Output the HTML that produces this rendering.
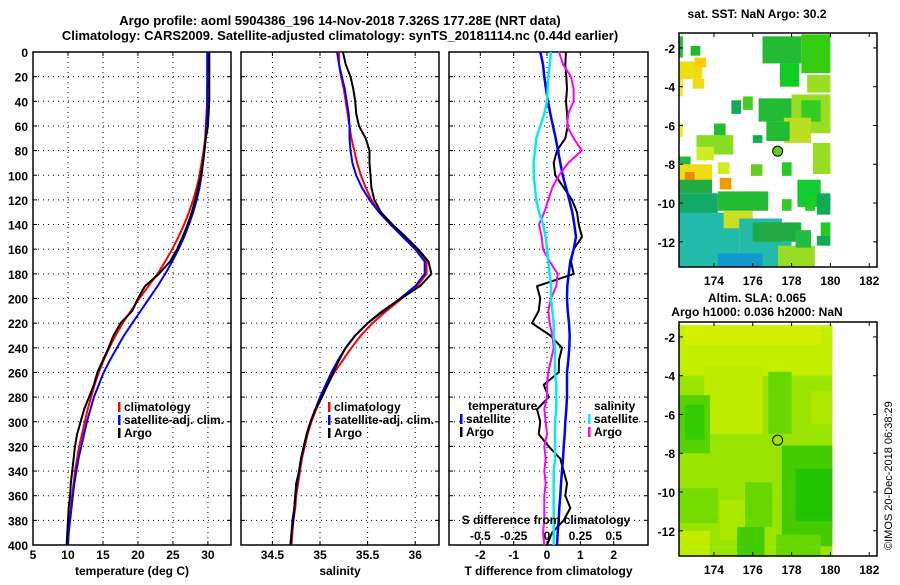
<!DOCTYPE html>
<html><head><meta charset="utf-8"><style>
body{margin:0;background:#fff;width:900px;height:580px;overflow:hidden}
svg{font-family:"Liberation Sans",sans-serif;font-weight:bold}
</style></head><body>
<svg id="c" width="900" height="580" xmlns="http://www.w3.org/2000/svg">
<text x="340" y="25" font-size="13" text-anchor="middle">Argo profile: aoml 5904386_196 14-Nov-2018 7.326S 177.28E (NRT data)</text>
<text x="340" y="40" font-size="13" text-anchor="middle">Climatology: CARS2009. Satellite-adjusted climatology: synTS_20181114.nc (0.44d earlier)</text>
<text x="757" y="18" font-size="12" text-anchor="middle">sat. SST: NaN Argo: 30.2</text>
<text x="757" y="302" font-size="12" text-anchor="middle">Altim. SLA: 0.065</text>
<text x="757" y="316" font-size="12" text-anchor="middle">Argo h1000: 0.036 h2000: NaN</text>
<text transform="translate(892,550) rotate(-90)" font-size="11" font-weight="normal">©IMOS 20-Dec-2018 06:38:29</text>
<g id="plots"></g>
</svg>
<script>
const depths=[0,10,20,30,40,50,60,70,80,90,100,110,120,130,140,150,160,170,180,190,200,210,220,230,240,250,260,270,280,290,300,310,320,330,340,350,360,370,380,390,400];
const tempClim=[30,30,30,29.9,29.9,29.8,29.7,29.6,29.4,29.1,28.8,28.4,27.9,27.3,26.6,25.8,24.9,23.9,22.8,21.5,20.2,19,17.8,16.8,15.9,15.1,14.4,13.8,13.3,12.8,12.4,12,11.6,11.3,11,10.8,10.6,10.4,10.2,10.1,9.9];
const tempSat=[29.9,29.9,29.9,29.9,29.9,29.9,29.8,29.7,29.5,29.3,29.1,28.8,28.4,27.9,27.3,26.6,25.8,24.9,23.9,22.8,21.6,20.4,19.2,18,17,16,15.1,14.4,13.7,13.2,12.7,12.3,11.9,11.5,11.2,10.9,10.7,10.5,10.3,10.1,10];
const tempArgo=[30.2,30.2,30.2,30.2,30.2,30.1,30,29.7,29.5,29.3,29,28.6,28.2,27.7,27.1,26.4,25.6,24.6,23,21,20,19.2,17.5,16.5,15.8,15,14.2,13.7,13,12.3,11.8,11.3,11,10.8,10.6,10.4,10.3,10.1,10,9.9,9.8];
const salClim=[35.2,35.2,35.22,35.25,35.27,35.29,35.31,35.33,35.36,35.39,35.43,35.48,35.54,35.62,35.74,35.88,36.02,36.12,36.12,36.02,35.86,35.7,35.55,35.43,35.33,35.24,35.15,35.08,35.02,34.96,34.91,34.87,34.84,34.81,34.79,34.77,34.75,34.74,34.72,34.71,34.7];
const salSat=[35.18,35.2,35.23,35.26,35.28,35.3,35.31,35.31,35.32,35.34,35.38,35.44,35.52,35.62,35.74,35.87,36.0,36.1,36.1,36.0,35.84,35.67,35.5,35.37,35.27,35.19,35.12,35.06,35.0,34.95,34.9,34.86,34.83,34.8,34.78,34.76,34.74,34.73,34.71,34.7,34.69];
const salArgo=[35.24,35.27,35.32,35.35,35.37,35.38,35.41,35.48,35.52,35.52,35.53,35.54,35.57,35.64,35.76,35.9,36.03,36.14,36.17,36.05,35.85,35.66,35.5,35.37,35.27,35.2,35.14,35.08,35.02,34.95,34.9,34.86,34.83,34.8,34.78,34.75,34.74,34.73,34.72,34.7,34.69];
const tDiffSat=[-0.2,-0.12,-0.08,-0.03,0.03,0.1,0.18,0.26,0.33,0.4,0.47,0.57,0.67,0.76,0.82,0.87,0.8,0.7,0.65,0.61,0.6,0.62,0.66,0.68,0.67,0.64,0.6,0.6,0.6,0.58,0.55,0.53,0.5,0.48,0.45,0.42,0.4,0.37,0.35,0.32,0.3];
const tDiffArgo=[0.57,0.55,0.58,0.6,0.57,0.6,0.62,0.55,0.3,0.2,0.25,0.5,0.75,0.9,0.95,1.05,0.8,0.72,0.8,-0.3,-0.2,-0.25,-0.45,0.1,0.45,0.36,0.35,-0.1,0.05,-0.3,-0.2,-0.25,0.05,0.4,0.5,0.6,0.55,0.7,0.5,0.15,0.0];
const sDiffSat=[0.03,0.02,0.01,0.005,0,-0.02,-0.05,-0.08,-0.09,-0.1,-0.1,-0.09,-0.08,-0.06,-0.03,-0.01,0,0.01,0.02,0.03,0.03,0.04,0.05,0.05,0.06,0.06,0.06,0.07,0.07,0.07,0.06,0.06,0.06,0.06,0.05,0.05,0.05,0.05,0.05,0.05,0.05];
const sDiffArgo=[0.09,0.12,0.18,0.2,0.2,0.16,0.15,0.2,0.26,0.16,0.09,0.04,0.01,-0.02,-0.06,-0.04,-0.03,0.02,0.08,0.07,0.03,0.01,0.02,0.04,0.05,0.03,0.01,0,0,-0.02,-0.01,0,-0.02,-0.01,-0.02,-0.01,-0.02,-0.02,-0.02,-0.03,-0.02];
const depthTicks=[0,20,40,60,80,100,120,140,160,180,200,220,240,260,280,300,320,340,360,380,400];
const tTicks=[5,10,15,20,25,30];
const sTicks=[34.5,35,35.5,36];
const dTicks=[-2,-1,0,1,2];
const sdTicks=[-0.5,-0.25,0,0.25,0.5];
const sdTickLabels=["-0.5","-0.25","0","0.25","0.5"];
const lonTicks=[174,176,178,180,182];
const latTicks=[-2,-4,-6,-8,-10,-12];
// SST map cells: [lon0, lat0, lon1, lat1, colour]
const sstCells=[
[172.2,-1.4,172.4,-2.5,"#22bb44"],[172.8,-1.9,173.3,-2.4,"#22bb22"],[172.2,-2.7,173.4,-3.6,"#eedd11"],[173,-2.5,173.6,-3,"#ffcc00"],[172.9,-3.6,173.5,-4.1,"#eedd11"],[172.2,-3.6,172.4,-4.5,"#eeee22"],
[176.5,-1.4,178.5,-2.8,"#22bb33"],[178.5,-1.3,180,-3.3,"#33cc11"],[177.4,-2.8,178.4,-4.0,"#11cc22"],[178.8,-3.4,180,-4.3,"#99dd22"],
[175.5,-4.5,176,-5.2,"#44cc22"],[176.3,-4.6,178,-5.8,"#22bb33"],[178,-4.4,180,-6.4,"#99dd22"],[178.5,-4.7,179.5,-5.8,"#33cc22"],[177.6,-5.6,179,-6.9,"#bbdd22"],
[174.9,-4.7,175.4,-5.4,"#11aa55"],[176.7,-5.8,177.9,-6.8,"#22bb33"],[176,-6.5,176.5,-6.9,"#11aa55"],[174,-5.9,174.6,-6.6,"#22bb33"],[172.2,-5.9,172.4,-6.6,"#eeee22"],
[173.1,-6.5,175,-7.5,"#88dd22"],[173.1,-7.1,174,-7.8,"#ccee22"],[172.2,-7.6,172.8,-8.1,"#22bb44"],[172.2,-8.0,173.9,-8.9,"#eedd11"],[172.5,-8.4,173,-8.8,"#ee8800"],[174.3,-8.7,174.9,-9.3,"#ee9900"],
[174.2,-7.9,174.8,-8.5,"#ccee22"],[175.9,-8.0,176.5,-8.6,"#66cc22"],[177.5,-7.9,178,-8.6,"#22cc22"],[179.1,-6.9,180,-8.5,"#99dd22"],
[172.2,-8.8,173.9,-9.5,"#22aa44"],[174.2,-9.4,176.8,-10.4,"#22bb33"],[177.5,-9.8,178,-10.4,"#33cc22"],[178.3,-8.8,179.5,-10.2,"#11cc33"],[178.7,-9.7,179.2,-10.4,"#22cc22"],[179.3,-9.5,180,-10.6,"#11aa55"],
[172.2,-9.5,174.2,-13.3,"#11aa66"],[172.2,-10.5,175.3,-13.3,"#22bbaa"],[174.5,-10.4,176,-11.3,"#ccdd22"],[175.3,-10.8,177.5,-13.3,"#22bbaa"],[174.2,-12.6,176.5,-13.3,"#1199cc"],
[176,-11,178.5,-12.0,"#22aa44"],[176.4,-12.0,178,-12.5,"#22bbaa"],[177.3,-12.2,179.2,-13.3,"#99dd22"],[178.2,-11.4,179,-12.3,"#22bb44"],[179.5,-11.0,180,-11.7,"#22cc22"],[179.3,-11.7,180,-12.2,"#11aa55"]];
const slaCells=[
[172.2,-1.4,180.1,-13.3,"#99e400"],[172.2,-1.4,180.1,-4.0,"#c4ee00"],[172.5,-1.4,179.5,-2.4,"#d4f000"],[173.5,-3.5,176.5,-7.0,"#bdec00"],
[176.8,-3.8,178.0,-7.0,"#66d800"],[179,-4.8,180.1,-6.5,"#b0e800"],[172.2,-5.0,173.8,-8.0,"#55d200"],[172.5,-5.5,173.5,-7.3,"#33cc00"],
[177.5,-7.6,180.1,-12.8,"#44cc00"],[178.2,-8.8,180.1,-11.5,"#22c400"],[175.6,-9.5,177,-11.8,"#66d800"],[172.2,-9.8,174.2,-11.6,"#77dc00"],
[174.3,-10.4,175.6,-12.5,"#aae800"],[172.2,-12.0,173.8,-13.3,"#c0ec00"],[175.2,-11.8,176.6,-13.3,"#44cc00"],[177.2,-12.2,179.5,-13.3,"#66d800"]];

const g=document.getElementById('plots');
const NS='http://www.w3.org/2000/svg';
function el(tag,attrs,parent){const e=document.createElementNS(NS,tag);for(const k in attrs)e.setAttribute(k,attrs[k]);(parent||g).appendChild(e);return e;}
const yTop=52,yBot=545;
function yD(d){return yTop+(d/400)*(yBot-yTop);}
function mkX(x0,x1,v0,v1){return v=>x0+(v-v0)/(v1-v0)*(x1-x0);}
function txt(x,y,s,size,anchor,name){const t=el('text',{x:x,y:y,'font-size':size,'text-anchor':anchor||'middle'});t.textContent=s;return t;}
function panel(x0,x1,xs,ticks,labels,xlabel,name,leftLabels){
  const grp=el('g',{});
  
  
  depthTicks.forEach(d=>{const y=yD(d);
    if(d>0&&d<400){const l=el('line',{x1:x0,x2:x1,y1:y,y2:y,stroke:'#000','stroke-dasharray':'1,4'},grp);}
    el('line',{x1:x0,x2:x0+4,y1:y,y2:y,stroke:'#000'},grp);el('line',{x1:x1-4,x2:x1,y1:y,y2:y,stroke:'#000'},grp);
    if(leftLabels){const t=txt(x0-5,y+5,String(d),12,'end','depth-tick-label');grp.appendChild(t);}
  });
  ticks.forEach((v,i)=>{const x=xs(v);
    const l=el('line',{x1:x,x2:x,y1:yTop,y2:yBot,stroke:'#000','stroke-dasharray':'1,4'},grp);
    el('line',{x1:x,x2:x,y1:yBot-4,y2:yBot,stroke:'#000'},grp);el('line',{x1:x,x2:x,y1:yTop,y2:yTop+4,stroke:'#000'},grp);
    const t=txt(x,yBot+14,labels[i],12,'middle','x-tick-label');grp.appendChild(t);});
  const r=el('rect',{x:x0,y:yTop,width:x1-x0,height:yBot-yTop,fill:'none',stroke:'#000','stroke-width':1.5},grp);
  
  const t=txt((x0+x1)/2,yBot+30,xlabel,12,'middle','x-axis-title');grp.appendChild(t);
  return grp;
}
function line(vals,xs,color,name,grp,w){
  const pts=vals.map((v,i)=>xs(v).toFixed(1)+','+yD(depths[i]).toFixed(1)).join(' ');
  const p=el('polyline',{points:pts,fill:'none',stroke:color,'stroke-width':w||2,'stroke-linejoin':'round'},grp);
  
}
function legend(x,y,items,grp){items.forEach((it,i)=>{const yy=y+i*13;
  if(it[1]){const m=el('rect',{x:x,y:yy-9,width:2.5,height:10,fill:it[1]},grp);}
  const t=txt(x+(it[1]?6:0),yy,it[0],12,'start','legend-entry');grp.appendChild(t);});}
// panel 1
const xT=mkX(33,231,5,33.3);
const p1=panel(33,231,xT,tTicks,tTicks.map(String),'temperature (deg C)','temperature-panel',true);
line(tempClim,xT,'#ff0000','clim-temp-line',p1);line(tempSat,xT,'#0000ff','sat-temp-line',p1);line(tempArgo,xT,'#000000','argo-temp-line',p1);
legend(118,411,[['climatology','#ff0000'],['satellite-adj. clim.','#0000ff'],['Argo','#000']],p1);
// panel 2
const xS=mkX(241,439,34.17,36.25);
const p2=panel(241,439,xS,sTicks,sTicks.map(String),'salinity','salinity-panel',false);
line(salClim,xS,'#ff0000','clim-sal-line',p2);line(salSat,xS,'#0000ff','sat-sal-line',p2);line(salArgo,xS,'#000000','argo-sal-line',p2);
legend(328,411,[['climatology','#ff0000'],['satellite-adj. clim.','#0000ff'],['Argo','#000']],p2);
// panel 3
const xDT=mkX(449,648,-2.94,3.03);
const xDS=v=>xDT(v*4);
const p3=panel(449,648,xDT,dTicks,dTicks.map(String),'T difference from climatology','difference-panel',false);
line(tDiffArgo,xDT,'#000000','argo-tdiff-line',p3);line(tDiffSat,xDT,'#0000ff','sat-tdiff-line',p3,2.5);
line(sDiffArgo,xDS,'#ff00ff','argo-sdiff-line',p3);line(sDiffSat,xDS,'#00eeee','sat-sdiff-line',p3,2.5);
legend(468,410,[['temperature',null]],p3);legend(460,423,[['satellite','#0000ff'],['Argo','#000']],p3);
legend(594,410,[['salinity',null]],p3);legend(588,423,[['satellite','#00eeee'],['Argo','#ff00ff']],p3);
const st=txt(546,524,'S difference from climatology',12,'middle','s-diff-axis-title');p3.appendChild(st);
sdTicks.forEach((v,i)=>{const t=txt(xDS(v),540,sdTickLabels[i],12,'middle','s-diff-tick-label');p3.appendChild(t);});
// maps
function map(y0,y1,latTop,latBot,cells,name,dot){
  const x0=679,x1=877,lon0=172.2,lon1=182.4;
  const mx=v=>x0+(v-lon0)/(lon1-lon0)*(x1-x0);const my=v=>y0+(latTop-v)/(latTop-latBot)*(y1-y0);
  const grp=el('g',{});
  cells.forEach(c=>{const r=el('rect',{x:mx(c[0]),y:my(c[1]),width:mx(c[2])-mx(c[0]),height:my(c[3])-my(c[1]),fill:c[4]},grp);});
  const pt=el('circle',{cx:mx(177.28),cy:my(-7.326),r:5,fill:dot||'none',stroke:'#000','stroke-width':1},grp);
  const fr=el('rect',{x:x0,y:y0,width:x1-x0,height:y1-y0,fill:'none',stroke:'#000','stroke-width':1.5},grp);
  lonTicks.forEach(v=>{const x=mx(v);el('line',{x1:x,x2:x,y1:y1-4,y2:y1,stroke:'#000'},grp);el('line',{x1:x,x2:x,y1:y0,y2:y0+4,stroke:'#000'},grp);const t=txt(x,y1+18,String(v),12,'middle','lon-tick-label');grp.appendChild(t);});
  latTicks.forEach(v=>{const y=my(v);el('line',{x1:x0,x2:x0+4,y1:y,y2:y,stroke:'#000'},grp);el('line',{x1:x1-4,x2:x1,y1:y,y2:y,stroke:'#000'},grp);const t=txt(x0-4,y+5,String(v),12,'end','lat-tick-label');grp.appendChild(t);});
}
map(33,267,-1.23,-13.3,sstCells,'sst-map','#66cc22');
map(322,556,-1.23,-13.3,slaCells,'sla-map');
</script>
</body></html>
